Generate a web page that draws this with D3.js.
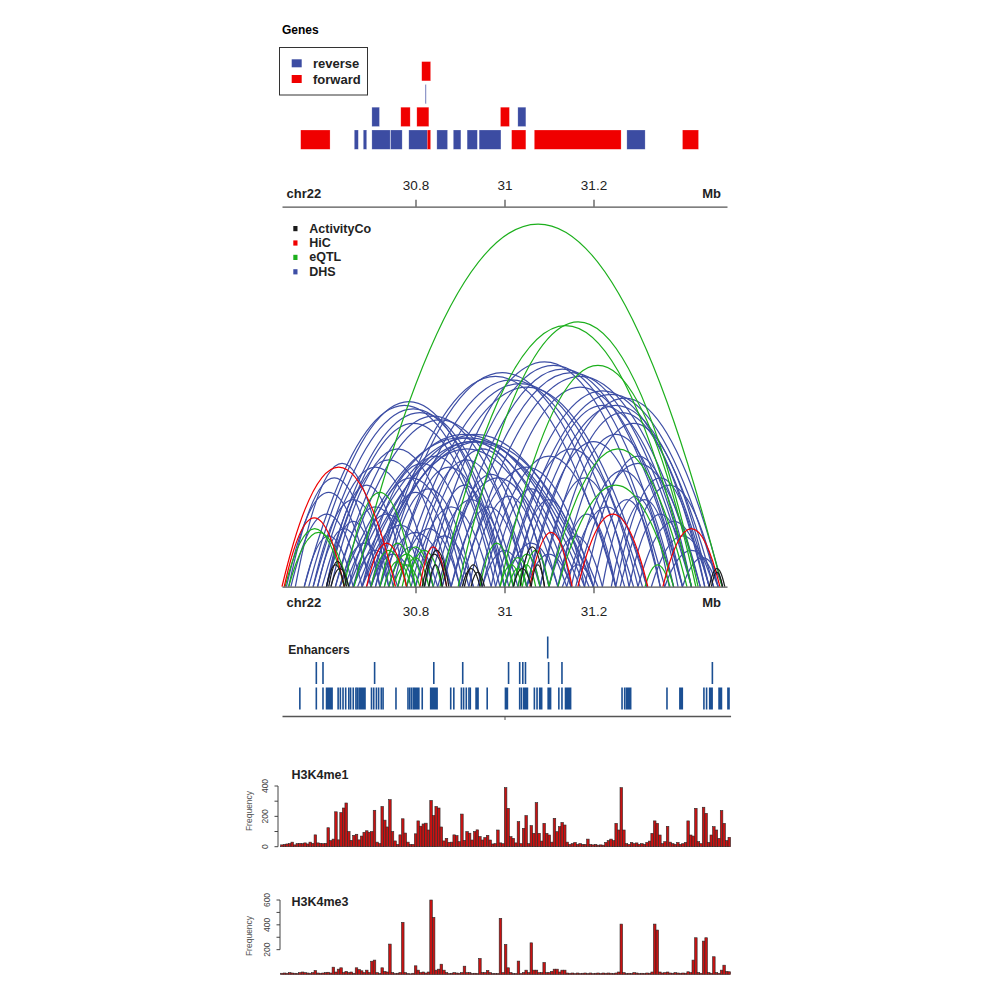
<!DOCTYPE html>
<html><head><meta charset="utf-8">
<script src="https://cdn.jsdelivr.net/npm/d3@7"></script>
<style>
body{margin:0;background:#fff}
svg{display:block}
text{font-family:"Liberation Sans",Arial,Helvetica,sans-serif}
</style>
</head><body>
<svg id="c" width="1000" height="1000"></svg>
<script>
// ---------------- DATA ----------------
const chromName = "chr22";
const regionStart = 30.5, regionEnd = 31.5;
const axisTicks = [30.8, 31, 31.2];

// genes: start, end (Mb), strand, row
const geneStart  = [30.542,30.6625,30.6827,30.702,30.744,30.785,30.8265,30.848,30.885,30.916,30.943,31.016,31.067,31.275,31.400, 30.702,30.767,30.803,30.991,31.030, 30.8215, 30.814];
const geneEnd    = [30.608,30.6715,30.6903,30.743,30.770,30.827,30.834,30.872,30.902,30.939,30.992,31.048,31.262,31.316,31.436, 30.719,30.788,30.830,31.011,31.048, 30.8232, 30.834];
const geneStrand = ["+","-","-","-","-","-","+","-","-","-","-","+","+","-","+", "-","+","+","+","-", "-", "+"];
const geneRow    = [0,0,0,0,0,0,0,0,0,0,0,0,0,0,0, 1,1,1,1,1, 2, 3];
const strandNames = ["reverse","forward"];

// interactions: [start, end, score]
const dhsArcs = [
 [30.51,30.70,26],[30.515,30.72,30],[30.52,30.68,20],[30.53,30.74,34],[30.55,30.66,14],[30.57,30.75,24],[30.58,30.70,16],[30.60,30.78,28],[30.60,30.72,18],[30.62,30.80,22],[30.63,30.74,12],[30.65,30.82,20],[30.66,30.76,10],[30.68,30.85,17],[30.70,30.80,9],[30.72,30.88,15],
 [30.55,31.00,50],[30.56,31.01,51],[30.57,31.02,49],[30.59,31.03,48],[30.60,30.99,45],
 [30.63,31.17,41],[30.64,31.18,42],[30.65,31.19,41],[30.66,31.20,40],[30.67,31.20,42],[30.68,31.21,40],[30.69,31.14,38],[30.70,31.15,40],
 [30.62,31.06,47],[30.63,31.08,46],
 [30.71,31.25,58],[30.72,31.27,59],[30.74,31.29,57],[30.76,31.31,56],[30.78,31.32,55],
 [30.82,31.36,62],[30.84,31.38,61],[30.86,31.40,60],[30.88,31.42,59],[30.90,31.44,58],
 [30.98,31.46,54],[31.00,31.48,53],[31.03,31.47,50],[31.05,31.49,52],[31.08,31.45,48],
 [30.78,31.05,35],[30.80,31.10,38],[30.82,31.00,28],[30.85,31.12,30],[30.88,31.05,22],[30.90,31.20,33],[30.92,31.10,25],[30.95,31.25,36],[30.97,31.15,27],[31.00,31.30,38],[31.02,31.18,24],[31.05,31.35,40],[31.08,31.28,30],[31.10,31.40,42],[31.12,31.25,20],[31.15,31.38,32],[31.18,31.42,36],[31.20,31.35,24],[31.22,31.37,25],[31.24,31.39,24],[31.25,31.45,30],[31.28,31.42,20],[31.30,31.46,18],[31.33,31.47,14],[31.36,31.48,10],[31.40,31.49,8],
 [30.95,31.05,10],[31.00,31.12,12],[31.05,31.15,9],[31.10,31.22,14],[31.13,31.20,6],
 [30.74,30.84,11],[30.76,30.90,16],[30.80,30.93,14],
 [30.66,30.92,30],[30.68,30.95,34],[30.70,30.90,26],[30.71,30.98,36],[30.73,30.93,27],[30.75,31.00,33],[30.79,30.97,22],[30.83,31.02,24],[30.86,31.08,31],[30.60,30.88,35],[30.58,30.84,33],[30.61,30.91,38],
 [31.14,31.32,22],[31.16,31.44,34],[31.26,31.48,28],[31.12,31.46,45],[31.02,31.42,50],[30.94,31.40,55]
];
const eqtlArcs = [
 [30.662,31.489,100],[30.855,31.42,72],[30.896,31.435,73],[30.99,31.43,61],[31.10,31.41,38],[31.12,31.38,28],
 [30.507,30.64,16],[30.515,30.65,15],[30.64,30.80,26],
 [30.70,30.78,10],[30.72,30.80,12],[30.73,30.79,7],[30.74,30.82,9],[30.75,30.81,6],[30.76,30.84,11],[30.77,30.83,8],[30.78,30.86,10],
 [30.99,31.04,6],[31.00,31.06,8],[31.01,31.05,5],[31.02,31.08,9],[31.03,31.07,6],[31.04,31.10,10],
 [30.945,31.02,12],[31.316,31.372,6]
];
const hicArcs = [
 [30.50,30.755,33],[30.505,30.64,19],[30.69,30.78,12],[30.81,30.87,11],[31.057,31.152,15],[31.165,31.322,20],[31.356,31.484,16]
];
const activityArcs = [
 [30.60,30.64,6],[30.605,30.645,7],[30.61,30.65,5],[30.815,30.87,9],[30.82,30.875,10],[30.83,30.86,6],
 [30.905,30.945,5],[30.91,30.95,6],[30.925,30.955,4],[31.02,31.06,5],[31.035,31.09,11],[31.06,31.09,6],
 [31.46,31.495,5],[31.465,31.49,4]
];
const arcTypes = ["ActivityCo","HiC","eQTL","DHS"];

// enhancers [start, end] per row
const enhRow0 = [[30.539],[30.576],[30.591],[30.599,30.615],[30.625],[30.630],[30.636],[30.642],[30.649],[30.653],[30.659],[30.665],[30.668],[30.672,30.689],[30.700],[30.705],[30.711],[30.716],[30.722],[30.726],[30.755],[30.782],[30.786],[30.790],[30.794],[30.797,30.810],[30.814],[30.833,30.851],[30.878],[30.885],[30.902],[30.907],[30.913],[30.919],[30.922],[30.935,30.943],[30.960],[31.001,31.009],[31.033],[31.037],[31.042,31.054],[31.066],[31.072],[31.078,31.086],[31.097,31.106],[31.121],[31.128],[31.136,31.151],[31.263],[31.269],[31.273,31.286],[31.364],[31.393,31.402],[31.447],[31.453],[31.460,31.469],[31.481,31.490],[31.501,31.507]];
const enhRow1 = [[30.576],[30.591],[30.707],[30.840],[30.905],[31.008],[31.033],[31.040],[31.046],[31.098],[31.128],[31.466]];
const enhRow2 = [[31.096]];

// histograms (175 bins, 30.497 - 31.508 Mb)
const histStart = 30.497, histEnd = 31.508;
const me1Values = [
12,15,18,20,30,12,20,22,20,25,
18,30,22,78,25,22,20,22,125,40,
50,230,45,225,255,288,100,42,75,82,
45,70,95,105,95,100,240,30,20,265,
175,130,310,100,38,15,78,184,90,30,
15,15,85,170,135,150,155,110,305,205,
265,255,130,38,55,29,30,78,73,33,
215,42,100,89,44,100,111,67,44,60,
75,44,18,20,110,25,20,389,253,66,
55,25,165,20,121,205,20,139,88,290,
88,37,154,88,77,30,187,99,132,160,
143,30,15,20,28,15,20,15,15,50,
15,12,15,10,12,10,28,40,50,40,
154,110,389,110,20,15,28,20,25,15,
20,15,28,37,88,170,154,77,20,33,
134,30,20,15,28,15,20,28,170,77,
70,253,33,20,260,220,28,77,132,110,
55,238,154,40,62];
const me3Values = [
10,12,10,15,12,10,8,15,20,15,
12,10,15,32,12,10,12,15,18,12,
59,20,43,54,15,25,15,20,10,54,
40,30,15,35,15,107,116,15,8,54,
25,20,245,15,8,10,15,420,15,8,
5,10,70,35,15,20,12,20,600,460,
35,43,83,35,15,8,10,15,12,10,
15,67,15,15,8,10,8,129,15,15,
32,15,8,8,8,452,15,242,54,15,
8,8,108,8,15,35,15,255,35,35,
15,15,97,15,15,25,43,43,20,35,
35,12,10,12,8,12,8,10,12,8,
12,8,10,12,8,12,10,12,10,8,
12,20,406,15,8,10,8,15,12,8,
10,8,12,10,20,406,358,20,12,15,
20,12,10,15,12,10,12,10,22,15,
116,296,15,10,269,296,15,10,143,15,
10,35,75,25,22];
const me1Ticks = [0,100,200,300,400], me1Labels = [0,200,400];
const me3Ticks = [200,300,400,500,600], me3Labels = [200,400,600];

// ---------------- DRAW ----------------
const svg = d3.select("#c");
const FONT = '"Liberation Sans",Arial,sans-serif';
const colBlue = "#3c4ca2", colRed = "#f00000";
const arcColors = {ActivityCo:"#1a1a1a", HiC:"#f00000", eQTL:"#1caf1c", DHS:"#3d4ea5"};

const x = d3.scaleLinear().domain([regionStart, regionEnd]).range([282, 727]);

// ===== Genes panel =====
svg.append("text").attr("x",282).attr("y",33.5).attr("font-size",12).attr("font-weight","bold").text("Genes");
const rowY = d3.scaleLinear().domain([0,1]).range([130, 107.2]);
const geneIdx = d3.range(geneStart.length);
svg.append("g").selectAll("rect").data(geneIdx).join("rect")
  .attr("x", i => x(geneStart[i]))
  .attr("width", i => Math.max(1.2, x(geneEnd[i]) - x(geneStart[i])))
  .attr("y", i => rowY(geneRow[i]))
  .attr("height", 19.3)
  .attr("fill", i => geneStrand[i] === "+" ? colRed : colBlue)
  .attr("fill-opacity", i => (x(geneEnd[i]) - x(geneStart[i])) < 2 ? 0.7 : 1)
  .attr("stroke", "#ffffff").attr("stroke-opacity",0.45).attr("stroke-width",0.5);

// legend box
const lg = svg.append("g");
lg.append("rect").attr("x",279.5).attr("y",47.5).attr("width",88).attr("height",47.5)
  .attr("fill","none").attr("stroke","#333").attr("stroke-width",1);
strandNames.forEach((nm,k) => {
  lg.append("rect").attr("x",291.7).attr("y",59.3 + k*15.7).attr("width",10).attr("height",8)
    .attr("fill", k===0 ? colBlue : colRed);
  lg.append("text").attr("x",313).attr("y",68 + k*15.5).attr("font-size",13).attr("font-weight","bold")
    .attr("fill","#222").text(nm);
});

// gene axis
const gAxis = svg.append("g").attr("transform","translate(0,206.7)")
  .call(d3.axisTop(x).tickValues(axisTicks).tickSize(7).tickSizeOuter(0).tickPadding(10).tickFormat(d3.format("")));
gAxis.select(".domain").attr("stroke","#555").attr("stroke-width",1.3);
gAxis.selectAll(".tick line").attr("stroke","#555").attr("stroke-width",1.3);
gAxis.selectAll("text").attr("font-size",13.5).attr("font-family",FONT).attr("fill","#222");
svg.append("text").attr("x",286.5).attr("y",197.7).attr("font-size",13).attr("font-weight","bold").attr("fill","#222").text(chromName);
svg.append("text").attr("x",721).attr("y",197.7).attr("text-anchor","end").attr("font-size",13).attr("font-weight","bold").attr("fill","#222").text("Mb");

// ===== Arcs panel =====
const yArc = d3.scaleLinear().domain([0,100]).range([586.7, 224]);
function arcPath(d){
  const x1 = x(d[0]), x2 = x(d[1]), y0 = yArc(0), yc = yArc(2*d[2]);
  return `M${x1},${y0}Q${(x1+x2)/2},${yc} ${x2},${y0}`;
}
const arcG = svg.append("g").attr("fill","none").attr("stroke-width",1.25);
[["DHS",dhsArcs],["eQTL",eqtlArcs],["HiC",hicArcs],["ActivityCo",activityArcs]].forEach(([t,arr]) => {
  arcG.append("g").attr("stroke",arcColors[t]).selectAll("path").data(arr).join("path").attr("d",arcPath);
});
// arc legend
arcTypes.forEach((t,k) => {
  svg.append("rect").attr("x",293.3).attr("y",226 + k*14.4).attr("width",4.2).attr("height",5.2).attr("fill",arcColors[t]);
  svg.append("text").attr("x",309.3).attr("y",232.5 + k*14.4).attr("font-size",12.5).attr("font-weight","bold").attr("fill","#222").text(t);
});
// arc axis
const aAxis = svg.append("g").attr("transform","translate(0,586.7)")
  .call(d3.axisBottom(x).tickValues(axisTicks).tickSize(6.5).tickSizeOuter(0).tickPadding(13).tickFormat(d3.format("")));
aAxis.select(".domain").attr("stroke","#555").attr("stroke-width",1.3);
aAxis.selectAll(".tick line").attr("stroke","#555").attr("stroke-width",1.3);
aAxis.selectAll("text").attr("font-size",13.5).attr("font-family",FONT).attr("fill","#222");
svg.append("text").attr("x",286.5).attr("y",606.7).attr("font-size",13).attr("font-weight","bold").attr("fill","#222").text(chromName);
svg.append("text").attr("x",721).attr("y",606.7).attr("text-anchor","end").attr("font-size",13).attr("font-weight","bold").attr("fill","#222").text("Mb");

// ===== Enhancers =====
svg.append("text").attr("x",288.3).attr("y",654).attr("font-size",12).attr("font-weight","bold").attr("fill","#222").text("Enhancers");
const enhY = d3.scaleLinear().domain([0,1]).range([687.5, 662]);
const enhColor = "#1b4f93";
[enhRow0, enhRow1, enhRow2].forEach((rowArr, r) => {
  svg.append("g").selectAll("rect").data(rowArr).join("rect")
    .attr("x", d => x(d[0]) - 0.3)
    .attr("width", d => d.length > 1 ? Math.max(1.6, x(d[1]) - x(d[0])) : 1.6)
    .attr("y", enhY(r)).attr("height", 22)
    .attr("fill", enhColor);
});
const xEnh = x.copy().domain([regionStart, 31.508]).range([x(regionStart), x(31.508)]);
const eAxis = svg.append("g").attr("transform","translate(0,716)")
  .call(d3.axisBottom(xEnh).tickValues([31]).tickSize(4).tickSizeOuter(0).tickFormat(""));
eAxis.select(".domain").attr("stroke","#555").attr("stroke-width",1.3);
eAxis.selectAll(".tick line").attr("stroke","#555").attr("stroke-width",1);

// ===== Histograms =====
function histogram(values, yTop, yBottom, maxV, ticks, labels, title, titleY, freqY, axisX){
  const n = values.length;
  const bw = (histEnd - histStart) / n;
  const y = d3.scaleLinear().domain([0, maxV]).range([yBottom, yTop]);
  const g = svg.append("g");
  g.selectAll("rect").data(values).join("rect")
    .attr("x", (v,i) => x(histStart + i*bw))
    .attr("width", (v,i) => x(histStart + (i+1)*bw) - x(histStart + i*bw))
    .attr("y", v => y(v))
    .attr("height", v => y(0) - y(v))
    .attr("fill", "#c91212").attr("stroke", "#2a2a2a").attr("stroke-width", 0.6);
  // y axis
  g.append("line").attr("x1",axisX).attr("x2",axisX).attr("y1",y(d3.min(ticks))).attr("y2",y(d3.max(ticks)))
    .attr("stroke","#444").attr("stroke-width",1);
  g.selectAll("line.t").data(ticks).join("line").attr("class","t")
    .attr("x1",axisX-3.5).attr("x2",axisX).attr("y1",d=>y(d)).attr("y2",d=>y(d)).attr("stroke","#444").attr("stroke-width",1);
  g.selectAll("text.l").data(labels).join("text").attr("class","l")
    .attr("transform", d => `translate(${axisX-10},${y(d)}) rotate(-90)`)
    .attr("text-anchor","middle").attr("font-size",8.5).attr("fill","#444").text(d => d);
  g.append("text").attr("transform",`translate(252,${freqY}) rotate(-90)`).attr("text-anchor","middle")
    .attr("font-size",8.5).attr("fill","#555").text("Frequency");
  g.append("text").attr("x",291.5).attr("y",titleY).attr("font-size",12.5).attr("font-weight","bold").attr("fill","#222").text(title);
}
histogram(me1Values, 786, 846.7, 400, me1Ticks, me1Labels, "H3K4me1", 778.5, 811, 278);
histogram(me3Values, 900, 974.5, 600, me3Ticks, me3Labels, "H3K4me3", 905.7, 936, 280);
</script>
</body></html>
